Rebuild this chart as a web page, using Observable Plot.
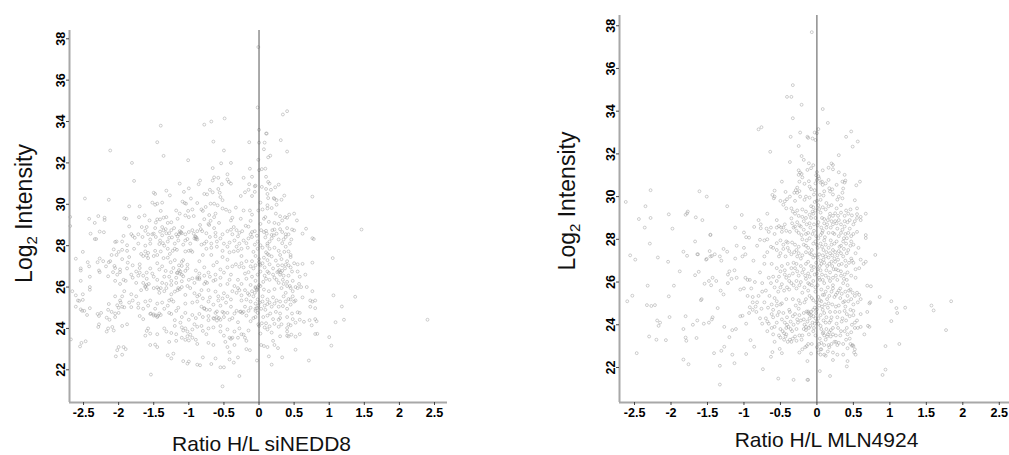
<!DOCTYPE html>
<html><head><meta charset="utf-8">
<script src="https://cdn.jsdelivr.net/npm/d3@7"></script>
<script src="https://cdn.jsdelivr.net/npm/@observablehq/plot@0.6"></script>
<style>html,body{margin:0;background:#fff;overflow:hidden}#c{display:flex;width:1009px;height:455px}svg{display:block;flex:none}</style>
</head><body><div id="c"></div>
<script>
const xTicks=[-2.5,-2,-1.5,-1,-.5,0,.5,1,1.5,2,2.5];
const yTicks=[22,24,26,28,30,32,34,36,38];
const yTitle="Log2 Intensity";
const titleNedd8="Ratio H/L siNEDD8";
const titleMln="Ratio H/L MLN4924";
const nedd8=[[-.01,37.6],[-.02,34.68],[.4,34.5],[.34,34.34],[-.49,34.15],[-.68,34],[-.78,33.85],[-1.4,33.8],[0,33.6],[.1,33.42],[.11,33.42],[.31,33.1],[-1.45,33],[-.65,33.03],[-.14,33],[0,32.98],[.08,32.98],[.07,32.66],[-.5,32.6],[-2.12,32.6],[.4,32.55],[.16,32.35],[.13,32.27],[-1.36,32.34],[-.01,32.15],[-1.01,32.13],[-1.81,32],[-.54,31.98],[-.4,32],[-.66,31.75],[-.13,31.72],[0,31.65],[.04,31.7],[.09,31.72],[-.64,31.3],[-.58,31.28],[-.45,31.45],[-.22,31.28],[-.1,31.33],[.1,31.33],[-.45,31.2],[-1.78,31.13],[-.84,31.15],[-.86,30.97],[-.66,31.15],[-.53,30.97],[-.43,31.08],[-.4,31],[-1.13,31],[-.14,30.97],[-.06,30.87],[-.05,30.9],[.04,30.84],[.13,31.08],[.15,31],[.28,30.95],[.23,30.82],[.1,30.74],[.17,30.7],[-1,30.77],[-1.07,30.6],[-1.32,30.66],[-1.5,30.56],[-1.48,30.5],[-1.27,30.43],[-.78,30.5],[-.74,30.48],[-.7,30.7],[-.58,30.74],[-.56,30.56],[-.66,30.58],[-.2,30.58],[-.26,30.4],[-.15,30.7],[-.06,30.6],[-.1,30.4],[-.55,30.35],[-2.48,30.28],[-2.14,30.22],[-.97,30.28],[.76,30.37],[.36,30.42],[.12,30.5],[.13,30.3],[.21,30.3],[.22,30.26],[.25,30.2],[.32,30.22],[-.52,30.2],[-1.52,30.08],[-1.48,29.98],[-1.45,30.03],[-1.38,30.08],[-1.09,30.13],[-1.06,30.06],[-1.04,30.03],[-.88,30.06],[-.69,30.03],[-.64,30.03],[-.59,29.95],[.02,30.08],[-1.85,29.9],[-1.7,29.9],[.12,29.95],
[-2.69,29.39],[-2.69,28.95],[-2.42,29.3],[-2.34,29.1],[-2.29,29.43],[-2.2,29.35],[-2.2,29.24],[-1.92,29.33],[-1.89,29.3],[-1.71,29.38],[-1.63,29.46],[-1.56,29.22],[-1.45,29.27],[-1.41,29.27],[-1.36,29.35],[-1.32,29.38],[-1.4,29.68],[-1.18,29.7],[-1.13,29.55],[-1.16,29.3],[-1.05,29.46],[-1,29.38],[-1.01,29.68],[-.95,29.75],[-.93,29.43],[-.82,29.75],[-.8,29.68],[-.76,29.87],[-.71,29.48],[-.62,29.55],[-.64,29.38],[-.69,29.2],[-.52,29.8],[-.47,29.74],[-.42,29.66],[-.38,29.35],[-.4,29.22],[-.33,29.84],[-.22,29.7],[-.13,29.7],[-.1,29.5],[-.26,29.3],[-.12,29.2],[-.01,29.7],[.05,29.75],[.12,29.8],[.18,29.82],[.25,29.98],[.09,29.38],[.07,29.3],[.24,29.55],[.3,29.42],[.37,29.38],[.43,29.5],[.5,29.55],[.54,29.22],[.33,29.22],[.22,29.1],[-.57,29.1],[-.78,29.28],[-1.25,29.13],[-1.47,29.12],[-1.3,29.1],[-.84,29],[-.72,29.05],[.4,29.35],[.14,29.15],[.28,29.05],[.02,29.05],
[-2.4,28.58],[-2.27,28.68],[-2.21,28.65],[-2.34,28.32],[-2.32,28.32],[-1.85,28.93],[-1.82,28.56],[-1.8,28.47],[-1.93,28.47],[-1.66,28.42],[-1.67,28.9],[-1.5,28.58],[-1.47,28.42],[-1.41,28.68],[-1.36,28.74],[-1.33,28.8],[-1.21,28.85],[-1.09,28.9],[-1.11,28.66],[-1.16,28.45],[-1,28.66],[-.93,28.58],[-.9,28.42],[-.83,28.8],[-.81,28.7],[-.64,28.85],[-.71,29],[-.45,28.7],[-.4,28.77],[-.36,28.9],[-.19,28.96],[-.15,28.92],[-.24,28.7],[-.1,28.66],[-.06,28.7],[.03,28.75],[.07,28.66],[.11,28.58],[.19,28.75],[.22,28.78],[.25,28.58],[.33,28.66],[.4,28.85],[.47,28.78],[.5,28.74],[.67,28.82],[1.46,28.78],[.62,28.58],[.78,28.32],[.76,28.36],[-2.05,28.18],[-2.03,28.2],[-1.88,28.02],[-1.77,28.38],[-1.72,28.55],[-1.55,28.3],[-1.52,28.55],[-1.38,28.5],[-1.3,28.2],[-1.42,28.08],[-1.24,28.4],[-1.12,28.62],[-1.08,28.05],[-.92,28.35],[-.9,28.32],[-.82,28.05],[-.75,28.2],[-.62,28.45],[-.55,28.35],[-.5,28.1],[-.38,28.55],[-.3,28.45],[-.22,28.25],[-.18,28.12],[-.1,28.42],[-.02,28.2],[.02,28.02],[.09,28.4],[.15,28.2],[.21,28.5],[.28,28.3],[.33,28.12],[.38,28.42],[.46,28.3],[.44,28.1],[-.78,28.1],[-1.02,28.32],[-1.2,28.1],[-.7,28.42],
[-2.61,27.37],[-2.51,27.7],[-2.44,27.2],[-2.54,26.9],[-2.54,26.8],[-2.42,27],[-2.3,27.2],[-2.27,27.38],[-2.22,27.25],[-2.14,27.2],[-2.12,27.25],[-2.28,26.8],[-2.27,26.72],[-2.06,27.02],[-2.05,26.92],[-1.98,26.85],[-1.98,26.72],[-2.15,26.52],[-1.95,27.35],[-1.95,27.8],[-1.88,27.75],[-2.07,27.82],[-2.03,27.55],[-1.87,27.18],[-1.8,27.05],[-1.88,26.9],[-1.75,26.75],[-1.7,26.92],[-1.65,27.5],[-1.6,27.52],[-1.62,27.72],[-1.58,27.65],[-1.5,27.5],[-1.45,27.55],[-1.4,27.72],[-1.3,27.85],[-1.27,27.6],[-1.2,27.3],[-1.17,27.8],[-1.05,27.72],[-1,27.75],[-1.14,27.05],[-1.1,27.02],[-1.02,27.08],[-1.3,27.42],[-1.45,27.15],[-1.55,26.9],[-1.42,26.85],[-1.33,26.78],[-1.25,26.72],[-1.16,26.7],[-1.13,26.65],[-1.02,26.9],[-.95,26.42],[-.9,26.8],[-.85,27.25],[-.8,27.55],[-.75,27.85],[-.68,27.55],[-.6,27.2],[-.52,27.45],[-.45,27.32],[-.42,27.68],[-.36,27.72],[-.3,27.75],[-.25,27.5],[-.33,27.1],[-.28,26.98],[-.22,26.95],[-.15,26.72],[-.1,27.25],[-.05,27.5],[0,27.35],[.02,27.05],[.02,26.75],[.07,27.42],[.1,27.68],[.15,27.85],[.18,27.48],[.24,27.28],[.3,27.55],[.36,27.7],[.42,27.72],[.33,27.05],[.38,27.08],[.42,27.05],[.5,27.15],[.55,27.1],[.62,27.12],[.76,27.18],[1.05,27.4],[.45,26.95],[.55,26.75],[.28,26.75],[.26,26.72],[.2,26.6],[.14,26.68],[.08,26.55],[-.02,26.6],[-.08,26.9],[-.2,26.65],[-.55,26.85],[-.62,26.6],[-.72,26.7],[-.78,26.95],[-.4,26.6],[-.65,27.05],[-1.7,27.1],[-1.22,26.92],
[-2.54,26.3],[-2.41,26.5],[-2.41,26],[-2.41,25.87],[-2.66,25.8],[-2.61,25.6],[-2.51,25.65],[-2.58,25.35],[-2.56,25.33],[-2.51,25.38],[-2.61,25.05],[-2.54,24.92],[-2.49,24.85],[-2.45,24.65],[-2.52,24.85],[-2.41,24.98],[-2.05,26.3],[-1.98,26.15],[-1.93,26.35],[-1.9,26.3],[-1.82,26.6],[-1.72,26.55],[-1.65,26.55],[-1.6,26.4],[-1.5,26.5],[-1.45,26.35],[-1.38,26.2],[-1.32,26.15],[-1.25,26.3],[-1.18,26.2],[-1.1,26.28],[-1,26.35],[-.88,26.4],[-.85,26.38],[-.78,26.15],[-.72,25.85],[-.62,26.35],[-.55,26.1],[-.45,26.15],[-.35,26.05],[-.3,25.95],[-.2,25.85],[-.12,26.1],[-.05,25.95],[-.03,25.85],[.02,26.05],[.06,26.25],[.1,26.4],[.15,26.35],[.22,26.45],[.28,26.2],[.34,26.35],[.4,26.25],[.44,26.05],[.52,26],[.58,26.5],[.66,26.6],[.48,25.8],[.38,25.72],[.32,25.95],[.22,25.9],[.14,25.8],[.07,25.88],[-1.92,25.8],[-1.82,25.65],[-1.62,26],[-1.68,25.85],[-1.6,25.9],[-1.5,25.95],[-1.45,25.98],[-1.42,25.72],[-1.35,25.8],[-1.25,25.65],[-1.15,25.95],[-1.2,25.78],[-1.05,25.62],[-.98,25.95],[-.92,25.7],[-.85,25.62],[-.7,25.5],[-.62,25.78],[-.58,25.55],[-.5,25.7],[-.4,25.4],[-.32,25.72],[-.25,25.6],[-.14,25.62],[-.08,25.55],[-.02,25.4],[.05,25.55],[.12,25.4],[.2,25.5],[.25,25.35],[.35,25.55],[.42,25.42],[.5,25.3],[.52,25.35],[.62,25.5],[.76,25.8],[1.06,25.6],[1.37,25.53],
[-2.02,25.12],[-1.97,25.25],[-1.95,25.05],[-2.14,25.18],[-1.8,25.35],[-1.82,25.03],[-1.72,25],[-1.62,25.3],[-1.55,25.35],[-1.45,25.2],[-1.38,25.25],[-1.3,25.1],[-1.22,25.3],[-1.15,25],[-1.05,25.2],[-.95,25.25],[-.88,25.3],[-.82,25.05],[-.78,24.98],[-.7,24.9],[-.6,24.82],[-.55,25.1],[-.47,25.25],[-.4,25.05],[-.32,24.85],[-.27,24.8],[-.2,25.05],[-.12,25],[-.05,24.95],[-.02,24.75],[.03,24.95],[.09,24.9],[.12,25.18],[.18,25.05],[.24,24.8],[.3,24.72],[.34,25.08],[.4,24.95],[.45,25.15],[.55,24.78],[.58,24.75],[.47,24.72],[.73,25.05],[.76,25.3],[.8,25.35],[.73,25.35],[.8,24.98],[1.18,25.06],[-2.1,24.8],[-2,24.75],[-2.05,24.72],[-2.25,24.75],[-2.3,24.7],[-2.28,24.6],[-2.17,24.52],[-2.05,24.55],[-2.13,24.42],[-1.7,24.6],[-1.65,24.45],[-1.55,24.7],[-1.5,24.62],[-1.45,24.55],[-1.42,24.72],[-1.25,24.7],[-1.2,24.4],[-1.12,24.28],[-1,24.42],[-.92,24.2],[-.85,24.7],[-.72,24.6],[-.65,24.5],[-.6,24.38],[-.5,24.55],[-.38,24.5],[-.3,24.3],[-.18,24.62],[-.08,24.5],[-.01,24.2],[.04,24.25],[.12,24.62],[.2,24.45],[.28,24.42],[.32,24.2],[.42,24.2],[.45,24.15],[.58,24.42],[.64,24.32],[.72,24.4],[.75,24.15],[.8,24.45],[.82,24.35],[1.21,24.42],[1.09,24.3],[2.4,24.42],
[-2.28,24.2],[-2.29,24.07],[-2.09,24.07],[-2.15,24],[-2.07,23.9],[-2.17,23.85],[-1.95,24.12],[-1.88,24.2],[-1.6,23.88],[-1.55,23.75],[-1.62,23.65],[-1.58,24],[-1.45,23.72],[-1.32,23.85],[-1.35,24],[-1.25,23.78],[-1.18,23.72],[-1.05,24],[-1.02,23.62],[-.95,23.95],[-.88,24.08],[-.8,23.88],[-.75,23.72],[-.65,24.05],[-.55,24.12],[-.45,23.95],[-.4,23.5],[-.38,23.55],[-.28,24],[-.22,23.7],[-.2,23.55],[.02,23.75],[.12,23.95],[.18,23.8],[.3,23.62],[.4,23.65],[.46,23.7],[.58,23.72],[.52,23.6],[.83,23.74],[.8,23.73],[1,23.58],[-2.68,23.47],[-2.47,23.38],[-2.53,23.3],[-2.55,23.13],[-1.55,23.2],[-1.48,23.22],[-1.45,23.1],[-1.28,23.35],[-1.1,23.55],[-1,23.42],[-.88,23.25],[-.72,23.3],[-.65,23.2],[-.45,23.1],[-.48,23.35],[-.35,23.2],[-.18,23],[-.13,22.95],[.03,23.2],[.07,23.15],[.12,23.1],[.22,23.2],[.27,23.05],[.52,22.97],[1.03,23.17],[-2.02,22.95],[-2.04,22.65],[-2,23.1],[-1.95,22.73],[-1.93,23.1],[-1.9,23],[-1.3,22.7],[-1.25,22.55],[-1.22,22.78],[-1.08,22.42],[-1.02,22.3],[-1,22.4],[-.88,22.25],[-.84,22.22],[-.8,22.6],[-.68,22.28],[-.62,22.55],[-.55,22.12],[-.5,22.12],[-.42,22.5],[-.36,22.35],[-.3,22.6],[-.42,22.85],[-.03,22.45],[.18,22.25],[.14,22.65],[.33,22.6],[.71,22.45],[-1.54,21.77],[-.52,21.2],[-.28,21.7]];
const nedd8Dense=[[-.91,28.45],[-.89,28.38],[-.88,28.3],[-1.13,28.7],[-1.1,28.6],[-1.14,28.55],[-1.41,28.25],[-1.35,28],[-1.37,28.12],[-1.2,27.85],[-1.23,27.75],[-.97,27.77],[-.95,27.7],[-1.1,27.22],[-1.08,27.3],[-1.14,26.82],[-1.17,26.68],[-1.12,26.75],[-1.1,26.6],[-.88,26.47],[-.85,26.45],[-.76,26.25],[-.74,26.2],[-1.62,26.05],[-1.6,26.1],[-1.43,25.9],[-1.4,25.95],[-1.16,25.85],[-1.13,25.9],[-1.28,25.35],[-1.25,25.4],[-1.54,24.72],[-1.47,24.63],[-1.5,24.68],[-1.44,24.6],[-1.4,24.65],[-.78,24.95],[-.75,24.9],[-.64,24.47],[-.6,24.55],[-.55,24.42],[-.57,24.5],[-.52,24.8],[-.5,24.75],[-.26,24.82],[-.24,24.75],[-.22,24.8],[-.03,24.98],[-.05,24.85],[-.03,25.9],[-.05,26],[-.02,25.98],[0,27.2],[.01,27.1],[.12,27.6],[.14,27.55],[.31,26.7],[.29,26.82],[.33,26.78],[.3,26.6],[.25,26.35],[.35,26.15],[.4,26.05],[.45,25.95],
[-1.55,28.1],[-1.62,28],[-1.72,28.1],[-1.78,27.85],[-1.68,27.6],[-1.58,27.4],[-1.48,27.75],[-1.36,27.4],[-1.26,27.2],[-1.38,27],[-1.52,26.65],[-1.6,26.7],[-1.7,26.7],[-1.8,26.45],[-1.75,26.2],[-1.65,26.2],[-1.57,26.15],[-1.35,26.5],[-1.28,26.5],[-1.18,26.45],[-1.08,26.52],[-1.05,26.78],[-1.25,26.1],[-1.32,25.95],[-1.1,26],[-1.02,26.05],[-.92,26.2],[-.82,25.85],[-.88,25.55],[-.8,25.45],[-.72,25.3],[-.65,25.15],[-.58,25.35],[-.52,25.45],[-.45,25.55],[-.38,25.8],[-.28,25.85],[-.25,25.35],[-.18,25.4],[-.12,25.3],[-.16,25.7],[-.1,25.8],[-.06,25.72],[-.05,25.2],[-.01,25.1],[.01,25.25],[.05,25.3],[.08,25.1],[.15,25.25],[.22,25.2],[.28,25.05],[.3,25.3],[.38,25.3],[.45,25.4],[.48,25.55],[.55,25.95],[.6,26],[.68,26],[.57,26.15],[.48,26.3],[.42,26.55],[.35,26.55],[.47,26.75],[.37,26.9],[.4,27.25],[.45,27.45],[.32,27.35],[.27,27.05],[.15,27.1],[.12,27.3],[.05,27.15],[.08,26.95],[.12,26.75],[.2,26.9],[-.05,27.05],[-.12,27],[-.18,27.25],[-.25,27.15],[-.38,27],[-.45,26.95],[-.5,26.7],[-.55,26.45],[-.65,26.3],[-.7,26.5],[-.78,26.55],[-.85,26.65],[-.42,26.35],[-.3,26.35],[-.25,26.15],[-.18,26.4],[-.1,26.5],[-.05,26.3],[0,26.1],
[-.68,27.9],[-.6,27.95],[-.52,27.75],[-.45,27.95],[-.32,27.95],[-.25,27.85],[-.16,27.9],[-.08,27.7],[-.02,27.85],[.05,27.9],[.12,28],[.22,27.9],[.28,27.75],[.38,27.95],[.45,27.55],[.35,28.3],[.12,28.1],[.18,28.35],[-.06,28.05],[-.15,28.35],[-.28,28.1],[-.35,28.25],[-.42,28.15],[-.6,28.2],[-.68,28.1],[-.98,28.1],[-1.05,28.25],[-1.15,28.25],[-1.28,28.6],[-1.25,28.75],[-1.18,28.55],[-1.05,28.55],[-.95,28.75],[-.88,28.7],[-.75,28.6],[-.62,28.62],[-.52,28.55],[-.32,28.75],[-.28,28.62],[-.12,28.55],[-.03,28.48],[.1,28.72],[.18,28.52],[.3,28.8],[.38,28.55],[.42,28.55],[-1.62,28.72],[-1.58,28.55],[-1.6,28.9],[-1.48,28.85],[-1.38,28.9],[-1.32,28.6],[-1.28,28.38],[-1.95,28.2],[-2,27.7],[-1.85,27.45],[-2.1,27.55],[-2.18,27],[-2.08,26.72],[-2.02,26.6],[-1.95,25.55],[-2.05,25.55],[-1.98,25.35],[-2,25],[-1.92,25.02],[-2.15,24.9],[-1.85,25.25],[-1.75,25.55],[-1.72,25.2],[-1.65,24.95],[-1.58,25.1],[-1.48,24.95],[-1.35,24.95],[-1.28,24.75],[-1.18,24.85],[-1.1,24.55],[-1.05,24.75],[-.95,24.65],[-.9,24.5],[-.8,24.55],[-.72,24.4],[-.62,24.75],[-.45,24.75],[-.42,24.42],[-.35,24.72],[-.15,24.85],[-.12,24.35],[-.05,24.55],[.06,24.55],[.1,24.25],[.16,24.72],[.22,24.22],[.3,24.5],[.4,24.55],[.48,24.45],[.52,24.28],[-1.2,24.12],[-1.1,24.05],[-1.08,23.9],[-1.02,23.85],[-.98,23.7],[-.82,24.12],[-.72,24],[-.55,23.85],[-.5,23.65],[-.42,23.55],[-.35,23.85],[-.3,23.55],[-.25,23.72],[-.15,23.9],[-.18,23.4],[0,24.12],[.08,24.05],[.15,24.1],[.28,24.08],[.4,24.02],[.4,23.85],[.42,23.62],[.2,23.4],[-.95,23.55],[-.9,23.45],[-1.18,23.4],[-1.05,23.45]];
const mln=[[-.07,37.7],[-.33,35.22],[-.41,34.67],[-.35,34.67],[-.21,34.3],[.08,34.1],[-.33,33.67],[.15,33.45],[-.76,33.25],[-.8,33.15],[.02,33.16],[.47,33.05],[-.03,33],[0,32.97],[-.23,33],[-.36,32.8],[-.13,32.8],[-.12,32.75],[.4,32.8],[.56,32.58],[-.06,32.72],[-.02,32.65],[.49,32.34],[-.25,32.37],[-.64,32.1],[.3,31.94],[-.21,31.9],[-.18,31.72],[-.37,31.62],[-.11,31.56],[-.05,31.47],[.2,31.55],[.22,31.48],[.16,31.35],[.22,31.28],[-.13,31.25],[-.08,31.33],[.08,31.23],[-.25,31.23],[-.23,31.12],[-.21,31.06],[-.25,31.02],[-.2,30.9],[0,31.15],[.3,31.14],[.38,31.02],[.03,30.85],[0,30.78],[.07,30.7],[.05,30.66],[-.02,30.62],[.16,30.78],[-.48,30.7],[-.11,30.72],[-.1,30.47],[.35,30.7],[.38,30.66],[.39,30.75],[.59,30.7],[.54,30.53],[-.27,30.42],[-.29,30.3],[-.31,30.18],[-.27,30.18],[-.24,30.26],[-.58,30.28],[-.61,30.08],[-.58,30],[-.59,29.92],[-.43,30.22],[-.37,30],[-.41,29.88],[-.44,29.78],[-.3,29.8],[-.5,29.8],[-.46,29.62],[-.23,30],[-.15,30],[-.04,30.1],[.04,30.08],[.09,30.05],[.17,30.39],[.21,30.34],[.22,30.1],[.18,30.24],[.28,29.86],[.3,30],[.35,29.92],[.35,30.18],[.36,30.38],[.52,29.83],
[-2.62,29.75],[-2.28,30.3],[-1.61,30.25],[-1.51,30],[-2.35,29.55],[-1.23,29.55],[-2.03,29.17],[-1.8,29.15],[-1.77,29.3],[-1.78,29.22],[-1.66,29.03],[-1.57,28.9],[-2.44,28.95],[-2.28,29],[-2.36,28.55],[-1.98,28.5],[-1.46,28.22],[-1.03,29.14],[-.68,29.2],[-.8,28.9],[-.77,28.7],[-.77,28.52],[-.86,28.58],[-.69,28.5],[-1.12,28.55],[-1.0,28.32],[-.97,28.1],[-.93,28.08],[-.55,28.9],[-.52,28.62],[-.46,28.55],[-.42,28.4],[-.58,28.25],[-.35,28.98],[-.33,29.3],[-.3,29.2],[-.25,29.1],[-.2,29.05],[-.15,29],[-.27,28.8],[-.24,28.65],[-.28,28.4],[-.18,28.45],[-.12,28.3],[-.06,29.3],[-.05,29.5],[-.03,29.75],[.02,29.6],[.03,29.42],[-.02,29],[.02,28.8],[.07,29],[.1,28.75],[.13,28.55],[.08,28.4],[.15,28.9],[.2,28.85],[.22,29.1],[.18,29.2],[.25,29.22],[.27,28.75],[.3,28.9],[.28,28.5],[.35,28.45],[.38,28.6],[.33,29.25],[.38,29.1],[.43,29.2],[.48,29.12],[.42,28.8],[.45,28.5],[.52,28.85],[.55,29],[.6,28.9],[.67,29.2],[.6,29.05],[.55,29.18],[.5,28.25],[.67,28.2],[-.04,28.4],[-.01,28.15],[.05,28.2],[.22,28.3],[.3,28.15],[.39,28.25],
[-.72,27.95],[-.68,28],[-.78,27.98],[-1.1,27.7],[-1.0,27.6],[-1.02,27.2],[-.98,27.3],[-.72,27.2],[-.68,27.4],[-.6,27.6],[-.55,27.82],[-.5,27.95],[-.42,27.9],[-.4,27.6],[-.5,27.35],[-.52,27.2],[-.35,27.3],[-.3,27.75],[-.28,27.5],[-.22,27.1],[-.25,27.35],[-.18,27.75],[-.14,27.95],[-.12,27.6],[-.08,27.3],[-.05,27.15],[-.02,27.9],[.01,27.6],[.03,27.3],[.05,27.0],[.07,27.65],[.1,27.95],[.13,27.4],[.16,27.15],[.2,27.75],[.22,27.5],[.24,27.1],[.27,27.9],[.3,27.45],[.33,27.7],[.36,27.2],[.4,27.8],[.43,27.5],[.47,27.1],[.5,27.75],[.53,27.35],[.57,27.6],[.6,27.05],[.67,26.95],[.8,27.27],[.67,28.06],[.64,26.85],[.58,26.65],[.53,26.6],[-.82,27.7],[-.72,26.85],[-.62,26.85],[-.78,26.45],[-.55,26.65],[-.5,26.5],[-.44,26.55],[-.42,26.2],[-.32,26.9],[-.3,26.65],[-.25,26.3],[-.18,26.6],[-.15,26.85],[-.1,26.25],[-.04,26.7],[.0,26.4],[.04,26.75],[.07,26.35],[.1,26.9],[.13,26.55],[.16,26.2],[.2,26.95],[.23,26.6],[.26,26.3],[.3,26.8],[.33,26.5],[.37,26.15],[.4,26.75],[.42,26.45],[.47,26.3],[.5,26.9],[.53,26.2],[-.6,26.25],[-.66,26.2],[-.55,26.05],[-.48,25.9],[-.38,26.05],[-.32,25.85],[-.22,26],[-.15,26.15],[-.1,25.9],[-.05,26.05],[.01,25.85],[.04,26.1],[.1,25.95],[.15,25.75],[.18,26.05],[.22,25.85],[.28,26.1],[.32,25.7],[.36,25.95],[.42,25.85],[.46,25.65],[.55,25.5],[.58,25.4],[.69,25.83],[.74,25.8],[.86,25.3],[-.63,25.95],[-.58,25.75],[-.7,25.6],[-.65,25.35],[-.75,25.55],[-.8,25.35],[-.53,25.55],[-.45,25.6],[-.38,25.65],[-.28,25.7],[-.2,25.5],[-.12,25.6],[-.07,25.25],[-.02,25.55],[.02,25.3],[.06,25.65],[.1,25.4],[.14,25.2],[.2,25.55],[.24,25.3],[.28,25.5],[.32,25.25],[.38,25.1],[.42,25.35],[.47,25.2],[.5,24.95],[.56,25.05],[.6,25.2],[.72,25],[-.95,26.1],[-.85,26],[-.9,25.7],[-1.05,25.65],[-1.0,25.7],[-.95,25.35],[-.88,25.3],[-.75,25.95],[-.55,25.1],[-.5,24.95],[-.42,25.2],[-.33,25.2],[-.25,25.15],[-.17,25.05],
[-.98,26.2],[-.92,26.1],[-1.1,26.2],[-1.2,26.5],[-1.17,26.15],[-1.22,26.35],[-1.22,25.95],[-1.13,26.55],[-1.12,27.1],[-1.4,27.3],[-.87,27],
[-2.6,25.1],[-2.53,25.36],[-2.56,27.25],[-2.49,27.05],[-2.29,27.8],[-2.18,27.15],[-2.04,26.95],[-1.88,26.5],[-2.32,25.83],[-1.96,25.83],[-2.03,25.33],[-2.33,24.92],[-2.27,24.88],[-2.22,24.92],[-2.02,24.36],[-2.19,24.2],[-2.15,24.1],[-2.17,23.95],[-2.3,23.45],[-2.2,23.3],[-2.07,23.28],[-2.47,22.67],[-1.83,27.42],[-1.78,27.23],[-1.67,27.9],[-1.64,27.3],[-1.63,27.3],[-1.52,27.05],[-1.51,27.08],[-1.47,27.45],[-1.46,27.2],[-1.44,27.22],[-1.46,28.2],[-1.33,27.2],[-1.31,27],[-1.28,27.55],[-1.23,27.42],[-1.62,26.48],[-1.67,26.32],[-1.54,25.92],[-1.48,26.05],[-1.43,26.2],[-1.38,26.05],[-1.45,25.85],[-1.32,25.6],[-1.28,25.42],[-1.36,24.78],[-1.59,25.15],[-1.58,25.2],[-1.8,24.4],[-1.64,24.2],[-1.7,24],[-1.55,24.05],[-1.48,24.1],[-1.43,24.35],[-1.44,24.25],[-1.83,23.8],[-1.8,23.4],[-1.79,23.25],[-1.65,23.38],[-1.27,23.9],[-1.2,23.42],[-1.16,23.75],[-1.11,23.8],[-1.83,22.37],[-1.76,22.15],[-1.41,22.67],[-1.31,22.78],[-1.27,22.97],[-1.33,22.08],[-1.33,21.2],[-1.16,22.6],[-1.13,22.2],[-.97,22.63],[-.86,22.97],[-.91,23.28],[-.74,21.92],[-.53,21.48],[-.32,21.42],[-.13,21.42],[-.12,21.42],[-.61,22.72],[-.63,22.5],[-.51,22.87],[-.48,22.67],[-.13,22.3],[.04,21.83],[.18,21.6],[.42,22.3],[.41,22.05],[.9,21.65],[.94,21.9],[.94,23],[1.13,23.1],[1.02,24.17],[1.1,24.55],[1.09,24.78],[1.21,24.8],[1.02,25.1],[1.57,24.9],[1.6,24.67],[1.84,25.1],[1.77,23.75],[.73,25.05],[.69,24.6],[.7,23.95],[.72,23.9],[.65,23.55],
[-1.05,24.4],[-1.02,24.42],[-.97,24.05],[-.92,24.82],[-.88,24.7],[-.82,25.05],[-.76,24.75],[-.7,24.3],[-.68,24.15],[-.66,24.05],[-.6,24.35],[-.58,23.9],[-.55,24.9],[-.52,24.6],[-.48,24.25],[-.45,23.6],[-.42,23.85],[-.38,24.7],[-.36,24.15],[-.34,23.7],[-.3,24.5],[-.28,23.8],[-.25,24.75],[-.22,24.2],[-.2,23.5],[-.18,24.55],[-.15,23.9],[-.12,24.62],[-.1,24.3],[-.08,24.6],[-.05,24.4],[-.03,24.05],[.0,24.72],[.02,24.3],[.05,23.95],[.07,24.85],[.1,24.55],[.12,24.1],[.15,24.8],[.17,23.65],[.2,24.35],[.22,23.85],[.25,24.6],[.27,24.05],[.3,24.9],[.33,23.7],[.35,24.3],[.38,24.65],[.4,24.2],[.42,23.55],[.45,24.4],[.48,24],[.5,24.65],[.52,23.85],[.55,24.2],[.6,24.5],[.6,23.9],[.45,23.35],[.5,23],[.48,23.02],[.52,22.85],[.53,22.6],[.51,22.7],[.4,23.3],[.3,23.15],[.24,23.2],[.2,23.1],[.17,22.95],[.16,23.05],[.1,23.5],[.12,23.3],[.08,23.6],[.04,23.35],[.03,23.1],[.0,22.95],[.02,22.7],[.05,22.85],[.1,22.6],[.15,22.75],[.22,22.7],[.28,22.6],[.22,22.35],[-.07,23.1],[-.12,23.1],[-.2,22.85],[-.08,22.65],[-.42,23.55],[-.4,23.2],[-.35,23.2],[-.28,23.25],[-.5,23.8],[-.52,23.5],[-.58,23.2],[-.45,23.3]];
const mlnDense=[[-.12,24.55],[-.1,24.5],[-.08,24.45],[-.14,24.62],[-.05,24.7],[-.03,24.8],[-.01,24.55],[.03,24.9],[.06,25.1],[.08,24.7],[.11,24.95],[.16,25],[.18,24.6],[.21,24.95],[.26,24.85],[.31,24.6],[.36,25.05],[.39,24.85],[.43,25.1],[.46,24.7],[.41,24.5],[.34,24.15],[.28,24.35],[.19,24.2],[.13,24.35],[.09,24.2],[.05,24.45],[.0,24.15],[-.02,24.3],[-.06,24.1],[-.13,24.15],[-.18,24.25],[-.24,24.45],[-.27,24.25],[-.33,24.4],[-.37,24.6],[-.41,24.35],[-.46,24.55],[-.29,24.9],[-.23,25],[-.15,25.2],[-.1,25.35],[-.05,25.15],[-.01,25.05],[.04,25.15],[.08,25.4],[.12,25.55],[.17,25.35],[.22,25.7],[.26,25.4],[.3,25.6],[.34,25.45],[.39,25.55],[.44,25.6],[.49,25.5],[.52,25.35],[-.02,25.75],[-.07,25.85],[-.12,25.95],[-.17,25.75],[-.24,25.85],[-.28,26.05],[-.35,25.95],[-.41,25.75],[-.5,25.75],[.03,26.2],[.08,26.1],[.12,26.3],[.18,26.45],[.22,26.2],[.26,26.6],[.29,26.55],[.33,26.3],[.38,26.35],[.41,26.1],[.05,26.55],[.01,26.6],[-.03,26.35],[-.07,26.55],[-.12,26.4],[-.16,26.3],[-.2,26.45],[-.27,26.5],[-.33,26.4],[-.38,26.3],[-.44,26.35],[-.52,26.25],[-.48,26.75],[-.4,26.85],[-.35,26.65],[-.28,26.85],[-.22,26.75],[-.12,26.95],[-.08,26.75],[-.01,26.9],[.06,26.85],[.09,27.05],[.14,26.75],[.17,26.85],[.21,26.75],[.25,26.95],[.29,27.05],[.34,26.85],[.39,27],[.44,26.9],[.48,27],[.01,27.15],[.08,27.25],[.12,27.2],[.18,27.35],[.21,27.25],[.25,27.4],[.28,27.25],[.33,27.35],[.37,27.55],[.41,27.35],[.46,27.7],[-.03,27.25],[-.07,27.5],[-.1,27.35],[-.15,27.4],[-.2,27.25],[-.27,27.2],[-.31,27.4],[-.38,27.45],[-.43,27.2],[-.46,27.55],[.0,27.75],[.05,27.8],[.09,27.5],[.12,27.75],[.16,27.6],[.19,27.95],[.24,27.8],[.31,27.65],[.36,27.9],[.41,28.05],[.47,27.9],[-.05,27.8],[-.1,28.05],[-.15,27.7],[-.2,28],[-.25,27.65],[-.34,27.85],[-.4,27.85],[-.46,27.75],[-.55,27.5],[-.63,27.65],[.02,28.05],[.07,28.3],[.11,28.1],[.16,28.3],[.19,28.55],[.24,28.25],[.33,28.3],[.37,28.05],[.43,28.3],[.47,28.15],[.55,28.35],[-.06,28.25],[-.09,28.55],[-.15,28.25],[-.21,28.2],[-.25,28.3],[-.32,28.55],[-.37,28.35],[-.48,28.35],[-.55,28.55],[-.63,28.55],[-.66,28.35],[.01,28.65],[.06,28.55],[.1,28.95],[.14,28.7],[.17,29.05],[.22,28.7],[.25,28.85],[.29,29.1],[.33,28.7],[.38,28.85],[.45,28.9],[.5,28.7],[-.04,28.7],[-.08,29],[-.1,28.75],[-.14,28.7],[-.18,28.85],[-.22,28.6],[-.3,28.6],[-.34,28.75],[-.44,28.7],[-.49,28.55],[-.05,29.2],[-.02,29.35],[.05,29.25],[.08,29.5],[.12,29.4],[.16,29.55],[.13,29.7],[.2,29.6],[.27,29.45],[.33,29.6],[.4,29.35],[.46,29.4],[.55,29.45],[-.1,29.15],[-.15,29.3],[-.2,29.4],[-.27,29.35],[-.35,29.45],[-.42,29.45],[-.08,29.55],[.0,29.8],[.05,29.85],[-.1,29.95],[-.17,29.85],[-.03,30.3],[.1,30.25],[.12,30.62],[.08,30.55],[-.08,30.35],[-.17,30.6],[-.24,30.7],[.27,30.55],[.02,30.95],[-.01,31],
[-.55,24.1],[-.62,24.5],[-.6,24.7],[-.67,24.8],[-.72,25.05],[-.58,25.25],[-.62,24.95],[-.48,25],[-.84,24.85],[-.88,25.05],[-.93,24.55],[-.83,24.6],[-.78,24.3],[-.75,24.05],[-.62,23.85],[-.68,23.7],[-.6,23.55],[-.54,24.45],[-.44,24.1],[-.41,24],[-.39,23.9],[-.36,23.8],[-.32,24],[-.26,24.1],[-.18,23.8],[-.15,23.75],[-.17,24],[-.11,23.85],[-.09,23.95],[-.04,23.85],[.02,24.05],[.06,23.8],[.09,23.65],[.13,23.8],[.17,24.1],[.19,23.75],[.22,23.55],[.26,23.5],[.29,23.85],[.32,23.5],[.38,23.7],[.41,23.85],[.47,23.65],[.52,24.1],[.5,24.45],[.56,23.85],[.26,23.2],[.28,23.05],[.14,23.45],[.06,23.15],[.1,23.05],[.15,23.55],[.19,23.45],[.36,23.1],[.42,22.9],[.46,23.1],[.49,23.05],[.36,22.6],[-.02,23.5],[-.05,23.7],[-.11,23.55],[-.21,23.3],[-.24,23.5],[-.3,23.45],[-.33,23.35],[-.37,23.3],[-.47,23.7],[-.43,23.45],[-.5,23.4],[-.24,22.7],[-.14,23],[-.16,22.95],[.12,22.55],[.06,22.85],[.05,22.6]];

function panel(points,title,xDomain,yDomain,width,ml,mr,mt,o){
  const svg=Plot.plot({
    width,height:455,marginLeft:ml,marginRight:mr,marginTop:mt,marginBottom:53,
    style:{fontFamily:"'Liberation Sans',Arial,sans-serif",background:"#fff",overflow:"visible"},
    x:{domain:xDomain,label:null},y:{domain:yDomain,label:null},
    marks:[
      Plot.dot(points,{x:d=>d[0],y:d=>d[1],r:1.45,fill:"none",stroke:"#9a9a9a",strokeOpacity:.6,strokeWidth:.8}),
      Plot.ruleX([xDomain[0]],{stroke:"#a8a8a8",strokeWidth:2}),
      Plot.ruleY([yDomain[0]],{stroke:"#a8a8a8",strokeWidth:2}),
      Plot.ruleX([0],{stroke:"#555",strokeWidth:1}),
      Plot.axisX({ticks:xTicks,tickFormat:d=>String(d),tickSize:3,tickPadding:3,stroke:"#444",fill:"#000",fontSize:12.6,fontWeight:"bold",label:null}),
      Plot.axisY({ticks:yTicks,tickFormat:d=>String(d),tickSize:3,tickPadding:2,tickRotate:-90,stroke:"#444",fill:"#000",fontSize:12.6,fontWeight:"bold",label:null}),
      Plot.text([title],{text:d=>d,frameAnchor:"bottom",textAnchor:"middle",dx:o.tx,dy:o.ty,fontSize:21,fill:"#111"}),
      Plot.text([yTitle],{text:d=>d,frameAnchor:"left",textAnchor:"middle",rotate:-90,dx:o.lx,dy:o.ly,fontSize:23,fill:"#111"})
    ]});
  d3.select(svg).selectAll("text").filter(function(){return this.textContent===yTitle}).each(function(){
    const t=d3.select(this);t.text(null);
    t.append("tspan").text("Log");
    t.append("tspan").attr("dy",5).attr("font-size",15).text("2");
    t.append("tspan").attr("dy",-5).text(" Intensity");
  });
  document.getElementById("c").appendChild(svg);
}
panel(nedd8.concat(nedd8Dense),titleNedd8,[-2.70,2.685],[20.42,38.4],505,69,58,30,{tx:3,ty:48,lx:-45,ly:-3});
panel(mln.concat(mlnDense),titleMln,[-2.706,2.64],[20.36,38.48],504,114,0,15,{tx:12,ty:44,lx:-52,ly:-8});
</script></body></html>
